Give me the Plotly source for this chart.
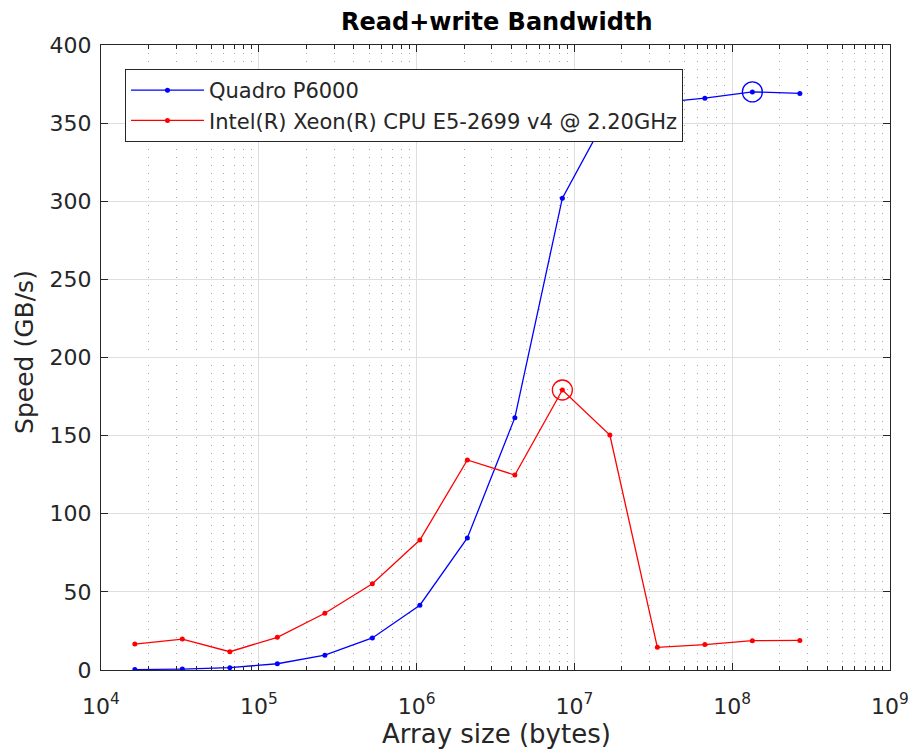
import plotly.graph_objects as go

sizes = [2**k for k in range(14, 29)]
gpu_speed = [0.3, 0.6, 1.5, 4.0, 9.5, 20.5, 41.5, 84.5, 161.5, 302, 358, 363, 366, 370, 369]
cpu_speed = [16.6, 19.8, 11.7, 20.9, 36.3, 55.2, 83.2, 134.4, 124.8, 179.2, 150.4, 14.5, 16.3, 18.8, 18.9]
gpu_name = "Quadro P6000"
cpu_name = "Intel(R) Xeon(R) CPU E5-2699 v4 @ 2.20GHz"
xtick_vals = [1e4, 1e5, 1e6, 1e7, 1e8, 1e9]
xtick_text = ["10<sup>4</sup>", "10<sup>5</sup>", "10<sup>6</sup>", "10<sup>7</sup>", "10<sup>8</sup>", "10<sup>9</sup>"]
ytick_vals = [0, 50, 100, 150, 200, 250, 300, 350, 400]

FONT = "DejaVu Sans"
AX = "#262626"

fig = go.Figure()
for name, ys, col in [(gpu_name, gpu_speed, "#0000ff"), (cpu_name, cpu_speed, "#ff0000")]:
    fig.add_trace(go.Scatter(x=sizes, y=ys, mode="lines+markers", name=name,
                             line=dict(color=col, width=1.3),
                             marker=dict(color=col, size=5)))
for ys, col in [(gpu_speed, "#0000ff"), (cpu_speed, "#ff0000")]:
    i = max(range(len(ys)), key=lambda k: ys[k])
    fig.add_trace(go.Scatter(x=[sizes[i]], y=[ys[i]], mode="markers", showlegend=False,
                             marker=dict(symbol="circle-open", size=20, color=col,
                                         line=dict(width=1.3, color=col))))

fig.update_layout(
    width=917, height=751,
    margin=dict(l=93, r=35, t=37, b=89, autoexpand=False),
    paper_bgcolor="white", plot_bgcolor="white",
    font=dict(family=FONT, color=AX, size=22),
    title=dict(text="<b>Read+write Bandwidth</b>", x=0.533, xanchor="center",
               y=0.982, yanchor="middle", yref="container",
               font=dict(size=24, color="black", family=FONT)),
    legend=dict(x=0.0304, y=0.9616, xanchor="left", yanchor="top",
                bgcolor="white", bordercolor="#262626", borderwidth=1,
                itemwidth=73,
                font=dict(size=21, color=AX, family=FONT), tracegroupgap=0),
    showlegend=True,
    annotations=[
        dict(text="Speed (GB/s)", xref="paper", yref="paper",
             x=-0.0963, y=0.509, xanchor="center", yanchor="middle",
             textangle=-90, showarrow=False,
             font=dict(size=25, color=AX, family=FONT)),
        dict(text="Array size (bytes)", xref="paper", yref="paper",
             x=0.501, y=-0.1024, xanchor="center", yanchor="middle",
             showarrow=False,
             font=dict(size=26, color=AX, family=FONT)),
    ],
)
fig.update_xaxes(type="log", range=[4, 9], tickvals=xtick_vals, ticktext=xtick_text,
                 automargin=False, ticklabelstandoff=16,
                 showline=True, linecolor=AX, linewidth=1.2, mirror="ticks",
                 ticks="inside", ticklen=7, tickcolor=AX,
                 showgrid=True, gridcolor="#dedede", gridwidth=1,
                 zeroline=False,
                 minor=dict(dtick="D1", ticks="inside", ticklen=4, tickcolor=AX, showgrid=True,
                            gridcolor="#a5a5a5", griddash="1px,7px", gridwidth=1),
                 tickfont=dict(size=22, color=AX))
fig.update_yaxes(range=[0, 400], tickvals=ytick_vals, automargin=False,
                 ticklabelstandoff=4,
                 showline=True, linecolor=AX, linewidth=1.2, mirror="ticks",
                 ticks="inside", ticklen=7, tickcolor=AX,
                 showgrid=True, gridcolor="#dedede", gridwidth=1, zeroline=False,
                 tickfont=dict(size=22, color=AX))

fig.write_html("out.html")
